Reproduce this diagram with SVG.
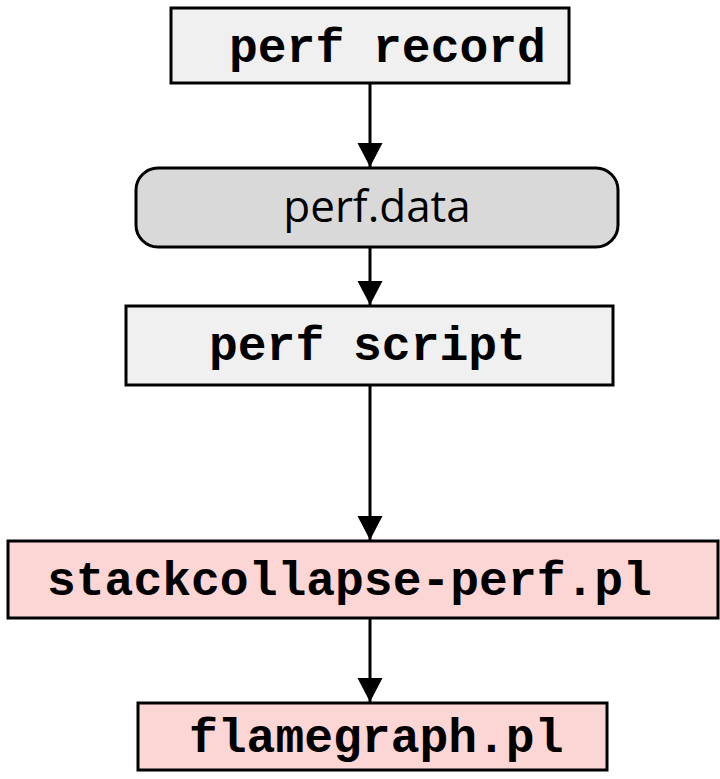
<svg xmlns="http://www.w3.org/2000/svg" width="720" height="779" viewBox="0 0 720 779">
<style>
.box{stroke:#000;stroke-width:3}
.gray{fill:#f0f0f0}
.data{fill:#d9d9d9}
.pink{fill:#fcd5d5}
.mono{font-family:"Liberation Mono","Courier New",monospace;font-weight:bold;font-size:48px;fill:#000}
.sans{font-family:"Open Sans","Noto Sans",sans-serif;font-weight:400;font-size:44px;fill:#000}
.conn{stroke:#000;stroke-width:3;fill:none}
</style>
<defs>
<marker id="arr" markerUnits="userSpaceOnUse" markerWidth="26" markerHeight="26" viewBox="0 0 26 26" refX="24" refY="13" orient="auto">
<path d="M0,0.5 L24,13 L0,25.5 Z" fill="#000"/>
</marker>
</defs>
<rect width="720" height="779" fill="#fff"/>
<g id="connectors">
<line class="conn" x1="370" y1="83" x2="370" y2="167" marker-end="url(#arr)"/>
<line class="conn" x1="370" y1="247" x2="370" y2="305" marker-end="url(#arr)"/>
<line class="conn" x1="370" y1="385" x2="370" y2="540" marker-end="url(#arr)"/>
<line class="conn" x1="370" y1="618" x2="370" y2="702" marker-end="url(#arr)"/>
</g>
<g id="perf-record">
<rect class="box gray" x="171" y="8" width="398" height="75"/>
<text class="mono" x="229" y="62">perf record</text>
</g>
<g id="perf-data">
<rect class="box data" x="136" y="168" width="482" height="79" rx="22" ry="22"/>
<text class="sans" x="377" y="222" text-anchor="middle">perf.data</text>
</g>
<g id="perf-script">
<rect class="box gray" x="126" y="306" width="487" height="79"/>
<text class="mono" x="209" y="360">perf script</text>
</g>
<g id="stackcollapse">
<rect class="box pink" x="8" y="541" width="710" height="77"/>
<text class="mono" x="47" y="595">stackcollapse-perf.pl</text>
</g>
<g id="flamegraph">
<rect class="box pink" x="138" y="703" width="469" height="67"/>
<text class="mono" x="189" y="752">flamegraph.pl</text>
</g>
</svg>
